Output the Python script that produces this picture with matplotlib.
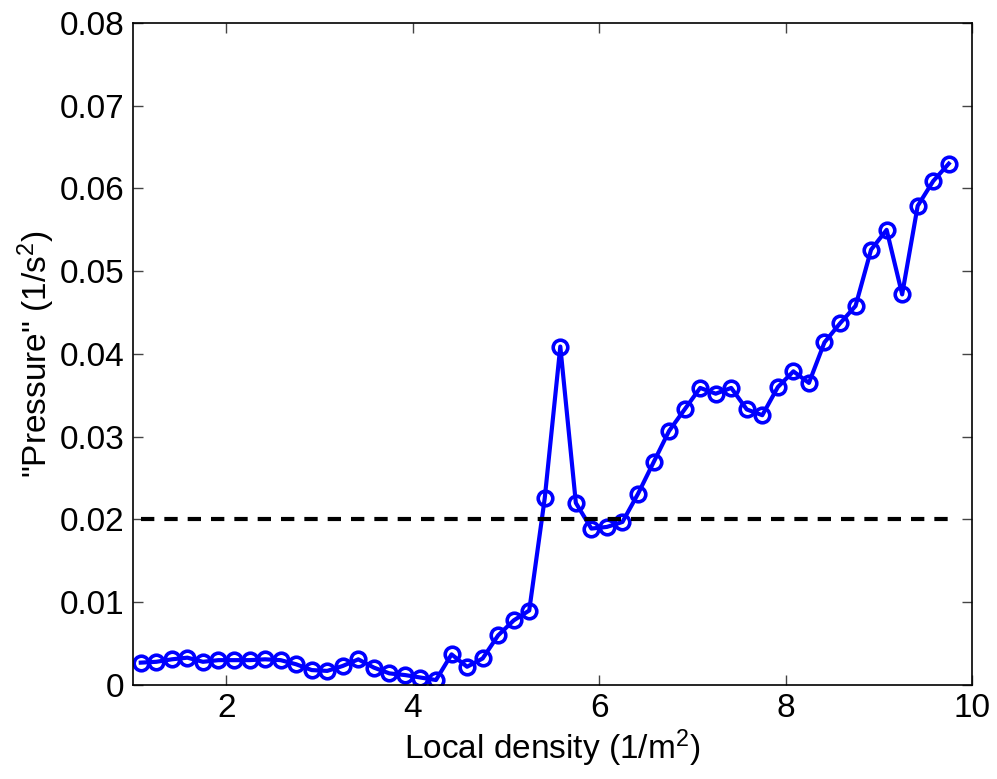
import numpy as np
import matplotlib
matplotlib.use("Agg")
import matplotlib.pyplot as plt

plt.rcParams['font.family'] = ['Liberation Sans', 'DejaVu Sans']
plt.rcParams['mathtext.default'] = 'regular'

# ==== Data ====
density = 1 + 1 / 12 + np.arange(53) / 6
pressure = [
    0.0027, 0.0028, 0.0031, 0.0033, 0.0028, 0.0030, 0.0030, 0.0030, 0.0031, 0.0030,
    0.0025, 0.0018, 0.0017, 0.0023, 0.0031, 0.0021, 0.0014, 0.0012, 0.0009, 0.0006,
    0.0037, 0.0022, 0.0032, 0.0060, 0.0078, 0.0090, 0.0226, 0.0409, 0.0220, 0.0189,
    0.0191, 0.0197, 0.0231, 0.0269, 0.0307, 0.0333, 0.0359, 0.0352, 0.0359, 0.0333,
    0.0326, 0.0360, 0.0379, 0.0365, 0.0414, 0.0437, 0.0458, 0.0526, 0.0550, 0.0472,
    0.0579, 0.0609, 0.0630,
]
threshold = 0.02

x_ticks = [2, 4, 6, 8, 10]
y_ticks = [0, 0.01, 0.02, 0.03, 0.04, 0.05, 0.06, 0.07, 0.08]
y_tick_labels = ["0", "0.01", "0.02", "0.03", "0.04", "0.05", "0.06", "0.07", "0.08"]

# ==== Plot ====
fig = plt.figure(figsize=(9.97, 7.79), dpi=100)
ax = fig.add_axes([0.1334, 0.1207, 0.8416, 0.8498])

ax.plot(density, pressure, color=(0, 0, 1), lw=3, marker='o', ms=10.5,
        mfc='none', mec=(0, 0, 1), mew=2.6)
ax.plot([density[0], density[-1]], [threshold, threshold], color='k', lw=3,
        ls=(0, (3.2, 2.4)))

ax.set_xlim(1, 10)
ax.set_ylim(0, 0.08)
ax.set_xticks(x_ticks)
ax.set_yticks(y_ticks)
ax.set_yticklabels(y_tick_labels)
ax.tick_params(direction='in', length=7, width=1, top=True, right=True,
               labelsize=24, pad=6, color='#444444')
for s in ax.spines.values():
    s.set_linewidth(1.2)

ax.set_xlabel("Local density (1/m$^2$)", fontsize=24, labelpad=2)
ax.set_ylabel('"Pressure" (1/s$^2$)', fontsize=24, labelpad=2)

fig.savefig("out.png", dpi=100)
